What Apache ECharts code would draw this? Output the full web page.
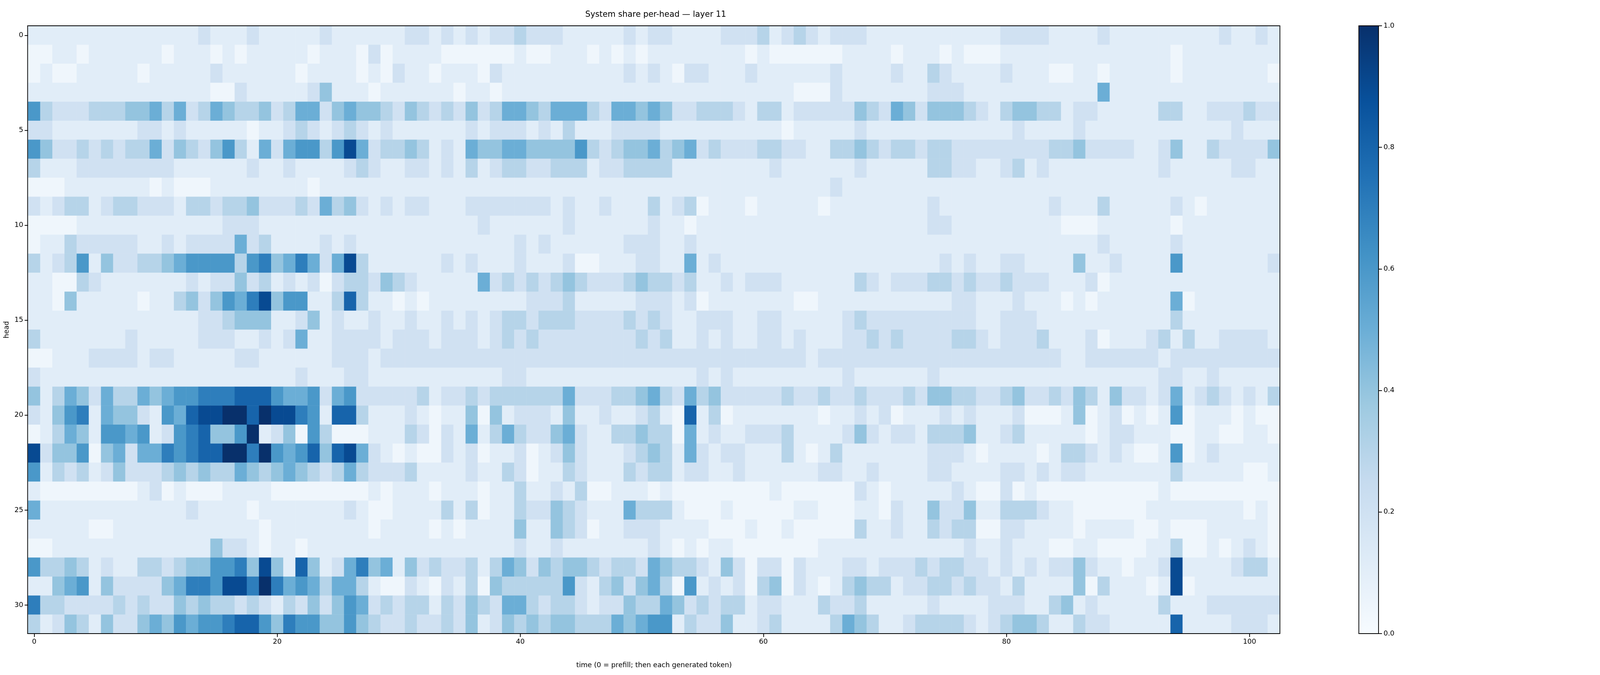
<!DOCTYPE html>
<html lang="en">
<head>
    <meta charset="UTF-8">
    <title>System share per-head</title>
    <script src="https://cdn.jsdelivr.net/npm/echarts@6/dist/echarts.min.js"></script>
</head>
<style>
    html,body{margin:0;padding:0;background:#fff;overflow:hidden;}
    #chart{width:100vw;height:100vh;}
</style>
<body>
    <div id="chart"></div>
</body>
</html>

<script>
    // one string per head, one char per time step (0-9 = tenths, a = 1.0)
    const headRows = [
        "11111111111111211121111121 11111221212122322211111212 21111222312321222111111111 1122221111211111111121121",
        "00110111111011101011111011 10201111000000100111010101 11111110100000011110111010 0011111111111111011111111",
        "01001111101111121111110111 10102110111021111111111212 10221112111111211112113211 1121110011011111011111110",
        "11111111111111100211111241 11011111101101111111111111 11111111111000211111112221 1111111111511111111111111",
        "63222333445352354334235524 54432432324235543555325545 42233321331222224325424443 2134433122111113311222322",
        "22111111122121111101123212 32121111112122212131112222 11111111110111112111111111 1112111121111111111112111",
        "64223232335243246315256636 95233431215445544446323445 34523222332211334323323322 2222223342222112411322224",
        "31112222222211111121121111 23211221213123322333122333 31111111121111112111113322 1123121111111112111112211",
        "00011111110100011111111011 11111111111111111111111111 11111111111111211111111111 1111111111111111111111111",
        "21233123322213323342223253 42121221112222222121121113 12301110111110111111112111 1111112111311111210111111",
        "00001111111111112221111111 11111111111211111121111112 11011111111111111111112211 1111111000111111011111111",
        "01132222211212222523111121 21111111111111212111111222 11211111111111111111111111 1111111111211111211111111",
        "31236142233456666367457525 93111111212111211120011122 11512111111111111111111212 1122111141121111611111112",
        "11003211111112122423121202 33243211111523232343222343 32311212221111113212223323 2232221112011111111111111",
        "11041111101134246579466113 83110101111111122231111122 21201111111001111111111122 1112111010111111501111111",
        "11111111111111223444112412 11211211212123323332222323 21122211221111123222222222 1122211111111111311111111",
        "31111111211111222112125112 22212221222123232222222232 31121211221211122323222233 2122231112011123131122221",
        "00111222212211111221111112 22122222222222222222222222 22222222222212222222222222 2222222112222221222222222",
        "21111111111111111111112111 22111111111112211111111111 11121211111111121111112111 1111111111111112211211111",
        "41354253354566777888655625 62222231223233333352223345 32534222223223223222324433 2234223243142212512321213",
        "2146715442165899aa8a997618 83111210114041222141121123 10813011111110112120111212 1112000140120101601110100",
        "013541665612678446a1240630 00111320215135322452113343 30512112223111124212213334 1123111110122111001100110",
        "9244604525576788aa7a656848 95210100212011201242111234 31521221113101311111112221 0111101332121001601211111",
        "61323124222343433543454323 53222311112113201132111323 31221121111112211211112211 1122121221111111311111001",
        "10000000012010001111000000 00101110111011311213001110 10000000010000002101111121 0020100000000001000000000",
        "51111111111112111101111111 21001111313011322432111533 31000100000110001102114224 1133321100000011111111010",
        "11111001111111111110111111 11011110101111411432011222 11110001001000003112113233 0022111101111001000111110",
        "00111111111111142210110111 11111111111111211211111112 10101100000001111111111112 1121110011000011300101210",
        "63343121133234466749418412 57451423223135424344323325 43321420220211122122232332 2121212242110112911112331",
        "1145614222245776997a756535 53100210213043333362134245 30612120340210134331223323 2213111140311101901111111",
        "73322223232243433232132424 65232331324325532332122433 54232331221113223111112111 1222113412111113111222222",
        "31243142245465667886476644 64322322324124343443335456 61322411231111354311233332 1234431132211111811112221"
    ];
    const levelValues = {'0':0.04,'1':0.11,'2':0.2,'3':0.3,'4':0.4,'5':0.5,'6':0.6,'7':0.7,'8':0.8,'9':0.9,'a':1.0};
    const timeSteps = Array.from({length:103},(_,i)=>String(i));
    const heads = Array.from({length:32},(_,i)=>String(i));
    const blues = ['#f7fbff','#deebf7','#c6dbef','#9ecae1','#6baed6','#4292c6','#2171b5','#08519c','#08306b'];

    let cells=[];
    headRows.forEach(function(row,h){
        let s=row.replace(/ /g,'');
        for(let t=0;t<103;t++){
            let ch=s[t]||'1';
            cells.push([t,h,levelValues[ch]]);
        }
    });

    let dom=document.getElementById('chart');
    // layout is measured on a 6488x1728 canvas, scaled to the real viewport
    let sx=dom.clientWidth/6488, sy=dom.clientHeight/1728;
    const G={left:112*sx,top:66*sy,width:5078*sx,height:1556*sy};
    const CB={left:5510*sx,top:66*sy,width:80*sx,height:1556*sy};
    const font='DejaVu Sans';
    const fs=28*sx;

    let chart=echarts.init(dom);
    chart.setOption({
        animation:false,
        textStyle:{fontFamily:font,color:'#000'},
        title:{
            text:'System share per-head — layer 11',
            left:G.left+G.width/2,top:22*sy,textAlign:'center',
            textStyle:{fontFamily:font,fontSize:33*sx,fontWeight:'normal',color:'#000'}
        },
        grid:[
            {left:G.left,top:G.top,width:G.width,height:G.height},
            {left:CB.left,top:CB.top,width:CB.width,height:CB.height}
        ],
        xAxis:[{
            type:'category',gridIndex:0,data:timeSteps,
            name:'time (0 = prefill; then each generated token)',
            nameLocation:'middle',nameGap:72*sy,
            nameTextStyle:{fontFamily:font,fontSize:fs,color:'#000'},
            axisLine:{show:false},
            axisTick:{show:true,alignWithLabel:true,length:14*sx,interval:function(i){return i%20===0;},lineStyle:{color:'#000',width:3*sx}},
            axisLabel:{interval:function(i){return i%20===0;},fontSize:fs,color:'#000',margin:20*sx},
            splitLine:{show:false}
        },{
            type:'category',gridIndex:1,data:['c'],show:false
        }],
        yAxis:[{
            type:'category',gridIndex:0,data:heads,inverse:true,
            name:'head',nameLocation:'middle',nameGap:72*sx,nameRotate:90,
            nameTextStyle:{fontFamily:font,fontSize:fs,color:'#000'},
            axisLine:{show:false},
            axisTick:{show:true,alignWithLabel:true,length:14*sx,interval:function(i){return i%5===0;},lineStyle:{color:'#000',width:3*sx}},
            axisLabel:{interval:function(i){return i%5===0;},fontSize:fs,color:'#000',margin:20*sx},
            splitLine:{show:false}
        },{
            type:'value',gridIndex:1,min:0,max:1,interval:0.2,position:'right',
            axisLine:{show:false},
            axisTick:{show:true,length:14*sx,lineStyle:{color:'#000',width:3*sx}},
            axisLabel:{fontSize:fs,color:'#000',margin:20*sx,formatter:function(v){return v.toFixed(1);}},
            splitLine:{show:false}
        }],
        visualMap:{show:false,min:0,max:1,seriesIndex:0,inRange:{color:blues}},
        graphic:[
            {type:'rect',z:100,shape:{x:G.left,y:G.top,width:G.width,height:G.height},
             style:{fill:'none',stroke:'#000',lineWidth:3*sx}},
            {type:'rect',z:90,shape:{x:CB.left,y:CB.top,width:CB.width,height:CB.height},
             style:{fill:new echarts.graphic.LinearGradient(0,1,0,0,blues.map(function(c,i){return {offset:i/(blues.length-1),color:c};})),
                    stroke:'#000',lineWidth:3*sx}}
        ],
        series:[{
            type:'heatmap',xAxisIndex:0,yAxisIndex:0,data:cells,
            itemStyle:{borderWidth:0},emphasis:{disabled:true},progressive:0
        },{
            type:'line',xAxisIndex:1,yAxisIndex:1,data:[],silent:true
        }]
    });
</script>
